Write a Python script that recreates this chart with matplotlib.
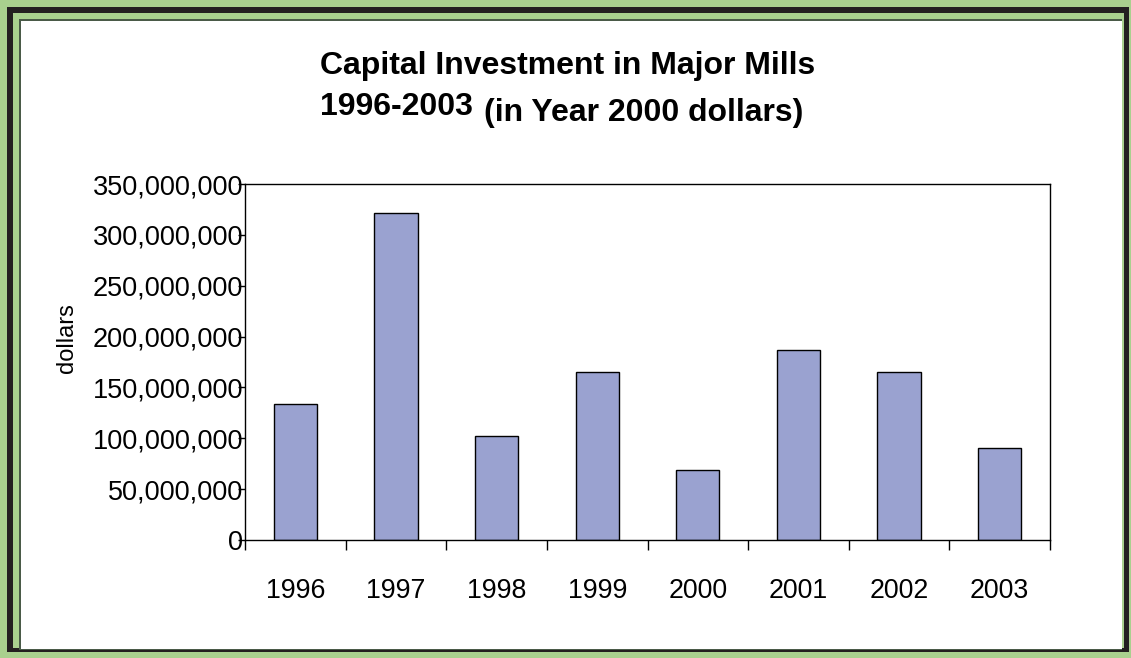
import matplotlib
matplotlib.use("Agg")
import matplotlib.pyplot as plt
from matplotlib.patches import Rectangle
from matplotlib.ticker import FuncFormatter, MultipleLocator
import numpy as np

years = ["1996", "1997", "1998", "1999", "2000", "2001", "2002", "2003"]
investment = [133.7e6, 321.5e6, 102.2e6, 165.2e6, 68.8e6, 186.8e6, 165.2e6, 90.4e6]

W, H = 1131, 658
plt.rcParams['font.family'] = ['Liberation Sans', 'DejaVu Sans']
fig = plt.figure(figsize=(W / 100, H / 100), dpi=100)

def rect_px(x0, y0, x1, y1, color, z):
    fig.patches.append(Rectangle((x0 / W, 1 - y1 / H), (x1 - x0) / W, (y1 - y0) / H,
                                 transform=fig.transFigure, facecolor=color,
                                 edgecolor='none', zorder=z))

green = '#a9d08e'
rect_px(0, 0, W, H, green, -10)
rect_px(7, 7, 1129, 652, '#231f20', -9)
rect_px(13, 13, 1124, 648, green, -8)
rect_px(19, 19, 1122, 650, '#4a5a48', -7)
rect_px(21, 21, 1122, 649, 'white', -6)

ax = fig.add_axes([245 / W, 1 - 540 / H, (1050 - 245) / W, (540 - 184) / H])
ax.set_facecolor('none')
x = np.arange(len(years))
ax.bar(x, investment, width=0.43, color='#9aa2d0', edgecolor='black', linewidth=1.0)
ax.set_xlim(-0.5, len(years) - 0.5)
ax.set_ylim(0, 350e6)
ax.yaxis.set_major_locator(MultipleLocator(50e6))
ax.yaxis.set_major_formatter(FuncFormatter(lambda v, p: f"{int(round(v)):,}"))

ax.set_xticks(x)
ax.set_xticklabels(years)
ax.set_xticks(np.arange(-0.5, len(years)), minor=True)
ax.tick_params(axis='x', which='major', length=0, pad=27.5, labelsize=19.3)
ax.tick_params(axis='x', which='minor', length=7, width=1, direction='out')
ax.tick_params(axis='y', length=5, width=1, direction='out', pad=-3.5, labelsize=19.5)
for s in ax.spines.values():
    s.set_linewidth(1)
    s.set_color('black')

ax.set_ylabel('dollars', fontsize=17)
ax.yaxis.set_label_coords(-0.207, 0.567)

fig.text(568 / W, 1 - 66 / H, 'Capital Investment in Major Mills', ha='center', va='center',
         fontsize=23, fontweight='bold')
fig.text(473 / W, 1 - 107 / H, '1996-2003', ha='right', va='center',
         fontsize=23, fontweight='bold')
fig.text(484 / W, 1 - 113 / H, '(in Year 2000 dollars)', ha='left', va='center',
         fontsize=23, fontweight='bold')

fig.savefig('out.png', dpi=100)
